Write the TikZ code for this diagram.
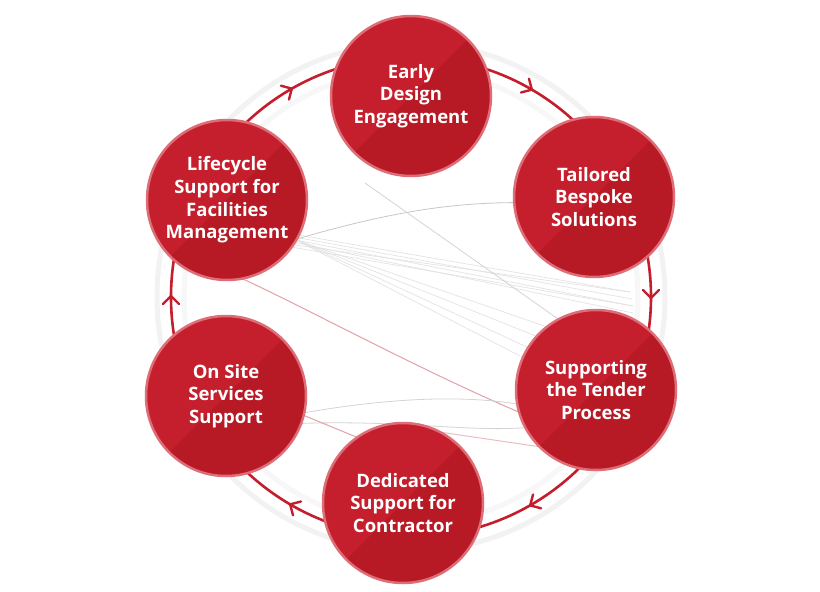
\documentclass[tikz,border=0pt]{standalone}
\usepackage{fontspec}
\setmainfont{Open Sans}
\usetikzlibrary{decorations.markings}
\definecolor{cred}{HTML}{C51E2C}
\definecolor{cdark}{HTML}{B71925}
\definecolor{cedge}{HTML}{DD6D77}
\definecolor{ringred}{HTML}{C41D2B}
\definecolor{faint}{HTML}{D4D4D6}
\definecolor{fainter}{HTML}{E3E3E5}
\definecolor{pinkline}{HTML}{E3A1A7}
\newcommand{\chev}{\draw[ringred, line width=2.4pt, line cap=round, line join=miter] (-7pt,-8pt) -- (1pt,0pt) -- (-7pt,8pt);}
\begin{document}
\begin{tikzpicture}[x=1pt,y=-1pt,
  bubble/.style={circle, minimum size=160pt, inner sep=0pt, fill=cred, draw=cedge, line width=2.5pt,
    text=white, align=center, font=\bfseries\fontsize{18.5}{22.7}\selectfont,
    path picture={\fill[cdark] (path picture bounding box.north east) -- (path picture bounding box.south west) -- (path picture bounding box.south east) -- cycle;}},
  thin/.style={draw=faint, line width=0.8pt},
  thinner/.style={draw=fainter, line width=0.7pt},
  pinky/.style={draw=pinkline, line width=1pt},
  barb/.style={decoration={markings,
      mark=at position 1/12 with {\chev},
      mark=at position 3/12 with {\chev},
      mark=at position 5/12 with {\chev},
      mark=at position 7/12 with {\chev},
      mark=at position 9/12 with {\chev},
      mark=at position 11/12 with {\chev}},
    postaction={decorate}}
]
\useasboundingbox (0,0) rectangle (820,592);
\fill[white] (0,0) rectangle (820,592);

% ring glow
\coordinate (rc) at (411,297);
\draw[black!5, line width=5pt] (rc) circle[radius=254];
\draw[black!3, line width=5pt] (rc) circle[radius=227];

% ring (clockwise on screen, starting at the top)
\draw[ringred, line width=2.6pt, barb] (411,57) arc[start angle=-90, end angle=270, radius=240];

% anchor nodes
\path (411,96) coordinate (pe) (594,197) coordinate (pt) (596,390) coordinate (ps)
      (403,503) coordinate (pd) (226,396) coordinate (po) (227,200) coordinate (pl);
\node[circle, minimum size=160pt, inner sep=0pt] (early) at (pe) {};
\node[circle, minimum size=160pt, inner sep=0pt] (tail) at (pt) {};
\node[circle, minimum size=160pt, inner sep=0pt] (supp) at (ps) {};
\node[circle, minimum size=160pt, inner sep=0pt] (dedi) at (pd) {};
\node[circle, minimum size=160pt, inner sep=0pt] (onsi) at (po) {};
\node[circle, minimum size=160pt, inner sep=0pt] (life) at (pl) {};

% faint inner lines
\coordinate (fa) at (630,292);
\coordinate (fb) at (632,299);
\coordinate (fc) at (633,306);
\coordinate (fd) at (633,313);
\foreach \s/\e in {-26/fa,-28/fb,-30/fc,-32/fd,-34/fa,-36/fc}{
  \draw[thinner] (life.\s) -- (\e);}
\foreach \e in {128,138,148,156}{
  \draw[thinner] (life.-30) -- (supp.\e);}
\draw[thin, draw=black!22] (life.-29) .. controls (390,212) and (450,203) .. (tail.184);
\coordinate (ts) at (365,183);
\draw[thin] (ts) -- (supp.118);
\draw[pinky] (life.-79) .. controls (300,305) and (420,370) .. (supp.196);
\draw[thin] (onsi.-12) .. controls (390,398) and (460,395) .. (supp.190);
\draw[thin] (onsi.-20) .. controls (400,420) and (470,432) .. (supp.208);
\draw[pinky] (onsi.-14) -- (dedi.125);
\draw[pinky, draw=pinkline!70] (dedi.62) -- (supp.225);

% bubbles
\node[bubble] (n1) at (early) {Early\\Design\\Engagement};
\node[bubble] (n2) at (tail) {Tailored\\Bespoke\\Solutions};
\node[bubble] (n3) at (supp) {Supporting\\the Tender\\Process};
\node[bubble] (n4) at (dedi) {Dedicated\\Support for\\Contractor};
\node[bubble] (n5) at (onsi) {On Site\\Services\\Support};
\node[bubble] (n6) at (life) {Lifecycle\\Support for\\Facilities\\Management};
\end{tikzpicture}
\end{document}
